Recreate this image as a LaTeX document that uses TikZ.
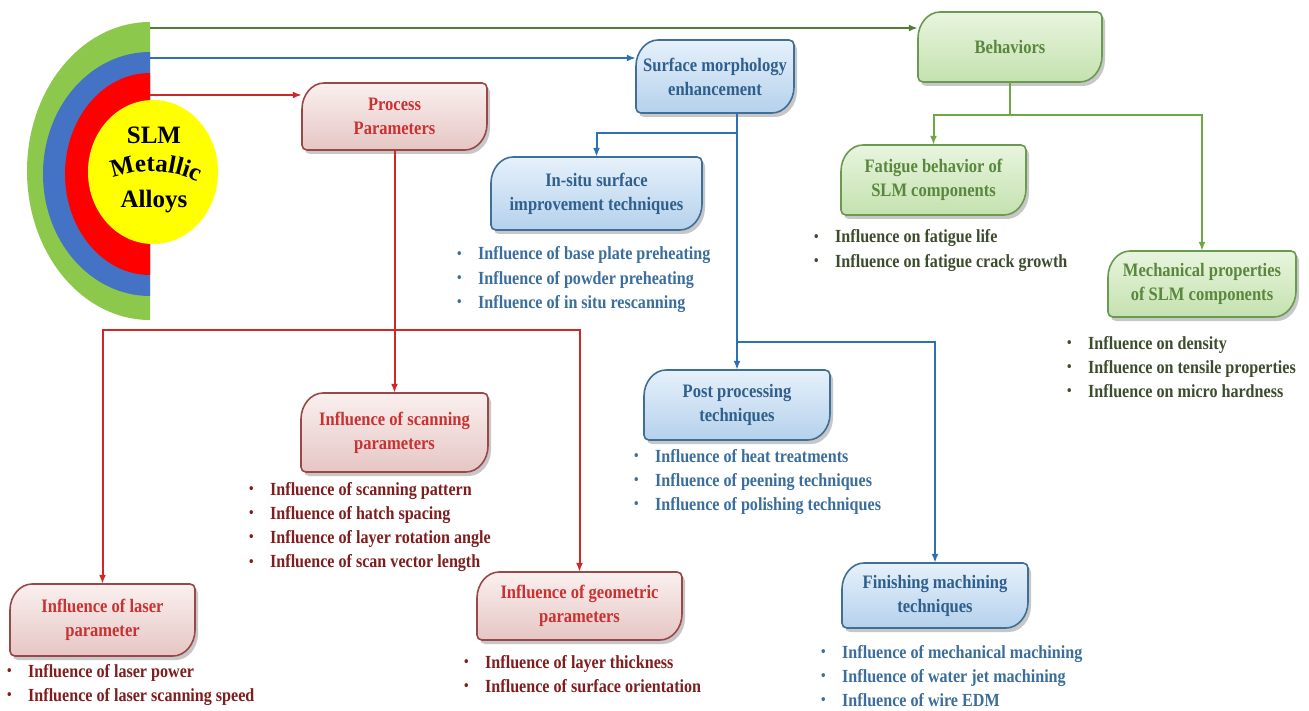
\documentclass[tikz,border=0pt]{standalone}
\usepackage{fontspec}
\setmainfont{Liberation Serif}[FakeStretch=0.87]
\newfontfamily\logofont{Liberation Serif}
\usetikzlibrary{arrows.meta,decorations.text}

% line colours
\definecolor{redline}{HTML}{D02828}
\definecolor{blueline}{HTML}{2C72B3}
\definecolor{greenline}{HTML}{4F7E34}
\definecolor{greenline2}{HTML}{6DA845}
% text colours
\definecolor{redtxt}{HTML}{C83232}
\definecolor{redlist}{HTML}{7E1E1E}
\definecolor{bluetxt}{HTML}{2F5F8C}
\definecolor{bluelist}{HTML}{3B6E9C}
\definecolor{greentxt}{HTML}{5A873E}
\definecolor{greenlist}{HTML}{3D4C2C}
% card colours
\definecolor{redA}{HTML}{FAF0EF}
\definecolor{redB}{HTML}{E5C6C4}
\definecolor{redborder}{HTML}{9A4747}
\definecolor{blueA}{HTML}{E6F1FB}
\definecolor{blueB}{HTML}{B5D1EC}
\definecolor{blueborder}{HTML}{3F6E96}
\definecolor{greenA}{HTML}{E8F5DE}
\definecolor{greenB}{HTML}{C4E1AF}
\definecolor{greenborder}{HTML}{6A9950}
% ring colours
\definecolor{ringG}{HTML}{8CC84B}
\definecolor{ringB}{HTML}{4472C4}
\definecolor{ringR}{HTML}{FF0000}
\definecolor{ringY}{HTML}{FFFF00}

\tikzset{
  tip/.style={-{Latex[length=9pt,width=7pt]}},
  redc/.style={line width=2pt,draw=redline},
  bluec/.style={line width=2pt,draw=blueline},
  greenc/.style={line width=2pt,draw=greenline2},
  topg/.style={line width=2.2pt,draw=greenline},
  redcard/.style={draw=redborder,line width=1.6pt,top color=redA,bottom color=redB},
  bluecard/.style={draw=blueborder,line width=1.6pt,top color=blueA,bottom color=blueB},
  greencard/.style={draw=greenborder,line width=1.6pt,top color=greenA,bottom color=greenB},
  redword/.style={text=redtxt},
  blueword/.style={text=bluetxt},
  greenword/.style={text=greentxt},
  boxtext/.style={font=\fontsize{19}{24}\selectfont\bfseries,align=center,inner sep=0pt,shape=rectangle},
  listtext/.style={font=\fontsize{18.5}{24}\selectfont\bfseries,inner sep=0pt,anchor=base west},
}

% card outline: large rounded top-left and bottom-right corners, small others
\newcommand\cardshape[5]{%
  \path[#1] (#2,{#3+26}) .. controls (#2,{#3+12}) and ({#2+10},#3) .. ({#2+22},#3)
    -- ({#4-5},#3) .. controls ({#4-2},#3) and (#4,{#3+2}) .. (#4,{#3+5})
    -- (#4,{#5-26}) .. controls (#4,{#5-12}) and ({#4-10},#5) .. ({#4-22},#5)
    -- ({#2+5},#5) .. controls ({#2+2},#5) and (#2,{#5-2}) .. (#2,{#5-5}) -- cycle;}

% \card{name}{left}{top}{right}{bottom}{colour family}{text}
\newcommand\card[7]{%
  \begin{scope}[shift={(3,4)}]
    \cardshape{fill=black,opacity=0.22}{#2}{#3}{#4}{#5}
  \end{scope}
  \cardshape{#6card}{#2}{#3}{#4}{#5}
  \node[boxtext,#6word,minimum width={#4-#2},minimum height={#5-#3}]
    (#1) at ({(#2+#4)/2},{(#3+#5)/2}) {#7};}

\newcommand\bul{\makebox[21pt][l]{\raisebox{0.1em}{\scalebox{0.8}{\textbullet}}}}

% \blist{name}{x}{first line centre}{colour}{items}
\newcommand\blist[5]{%
  \foreach \t [count=\i from 0] in {#5} {
    \node[listtext,text=#4] (#1-\i) at (#2,{#3+6+\i*24.3}) {\bul\t};
  }}

\begin{document}
\begin{tikzpicture}[x=1pt,y=-1pt]
  \fill[white] (0,0) rectangle (1309,711);
  \useasboundingbox (0,0) rectangle (1309,711);

  % half rings
  \begin{scope}
    \clip (0,0) rectangle (150,711);
    \fill[ringG] (150,171) ellipse [x radius=123, y radius=149];
    \fill[ringB] (150,174) ellipse [x radius=107, y radius=122];
    \fill[ringR] (150,174) ellipse [x radius=85, y radius=101];
  \end{scope}
  \fill[ringY] (153,172) ellipse [x radius=65, y radius=72];
  \node[font=\logofont\fontsize{25}{25}\selectfont\bfseries,inner sep=0pt] (slm) at (154,135) {SLM};
  \node[font=\logofont\fontsize{25}{25}\selectfont\bfseries,inner sep=0pt] (alloys) at (154,202) {Alloys};
  \path[decoration={text along path,text align=center,
        text={|\logofont\fontsize{25}{25}\selectfont\bfseries|Metallic}},decorate]
        (104,182) .. controls (135,167) and (175,167) .. (206,187);

  % cards
  \card{pp}{302}{83}{487}{150}{red}{Process\\Parameters}
  \card{sme}{636}{40}{794}{113}{blue}{Surface morphology\\enhancement}
  \card{beh}{918}{12}{1102}{82}{green}{Behaviors}
  \card{ins}{491}{157}{702}{230}{blue}{In-situ surface\\improvement techniques}
  \card{fat}{841}{145}{1026}{215}{green}{Fatigue behavior of\\SLM components}
  \card{mech}{1108}{251}{1296}{317}{green}{Mechanical properties\\of SLM components}
  \card{scan}{301}{393}{488}{472}{red}{Influence of scanning\\parameters}
  \card{post}{644}{370}{830}{440}{blue}{Post processing\\techniques}
  \card{fin}{842}{563}{1028}{628}{blue}{Finishing machining\\techniques}
  \card{laser}{10}{584}{195}{656}{red}{Influence of laser\\parameter}
  \card{geo}{477}{572}{682}{640}{red}{Influence of geometric\\parameters}

  % lists
  \blist{insl}{457}{254}{bluelist}{Influence of base plate preheating,Influence of powder preheating,Influence of in situ rescanning}
  \blist{fatl}{814}{237}{greenlist}{Influence on fatigue life,Influence on fatigue crack growth}
  \blist{mechl}{1067}{343}{greenlist}{Influence on density,Influence on tensile properties,Influence on micro hardness}
  \blist{scanl}{249}{489}{redlist}{Influence of scanning pattern,Influence of hatch spacing,Influence of layer rotation angle,Influence of scan vector length}
  \blist{postl}{634}{456}{bluelist}{Influence of heat treatments,Influence of peening techniques,Influence of polishing techniques}
  \blist{finl}{821}{652}{bluelist}{Influence of mechanical machining,Influence of water jet machining,Influence of wire EDM}
  \blist{laserl}{7}{671}{redlist}{Influence of laser power,Influence of laser scanning speed}
  \blist{geol}{464}{662}{redlist}{Influence of layer thickness,Influence of surface orientation}

  % connectors leaving the rings
  \coordinate (g0) at (150,28);
  \coordinate (b0) at (150,58);
  \coordinate (r0) at (150,95);
  \draw[topg,tip] (g0) -- (beh.west |- g0);
  \draw[bluec,tip] (b0) -- (sme.west |- b0);
  \draw[redc,tip] (r0) -- (pp.west |- r0);

  % process parameter tree
  \coordinate (jr) at (394.5,330);
  \draw[redc,tip] (pp.south) -- (scan.north);
  \draw[redc,tip] (jr) -| (laser.north);
  \draw[redc,tip] (jr) -| (geo.north);

  % surface morphology tree
  \coordinate (jb1) at (737,133);
  \coordinate (jb2) at (737,342);
  \draw[bluec,tip] (post.north |- sme.south) -- (post.north);
  \draw[bluec,tip] (jb1) -| (ins.north);
  \draw[bluec,tip] (jb2) -| (fin.north);

  % behaviour tree
  \coordinate (jg) at (1010,115);
  \draw[greenc] (beh.south) -- (jg);
  \draw[greenc,tip] (jg) -| (fat.north);
  \draw[greenc,tip] (jg) -| (mech.north);
\end{tikzpicture}
\end{document}
